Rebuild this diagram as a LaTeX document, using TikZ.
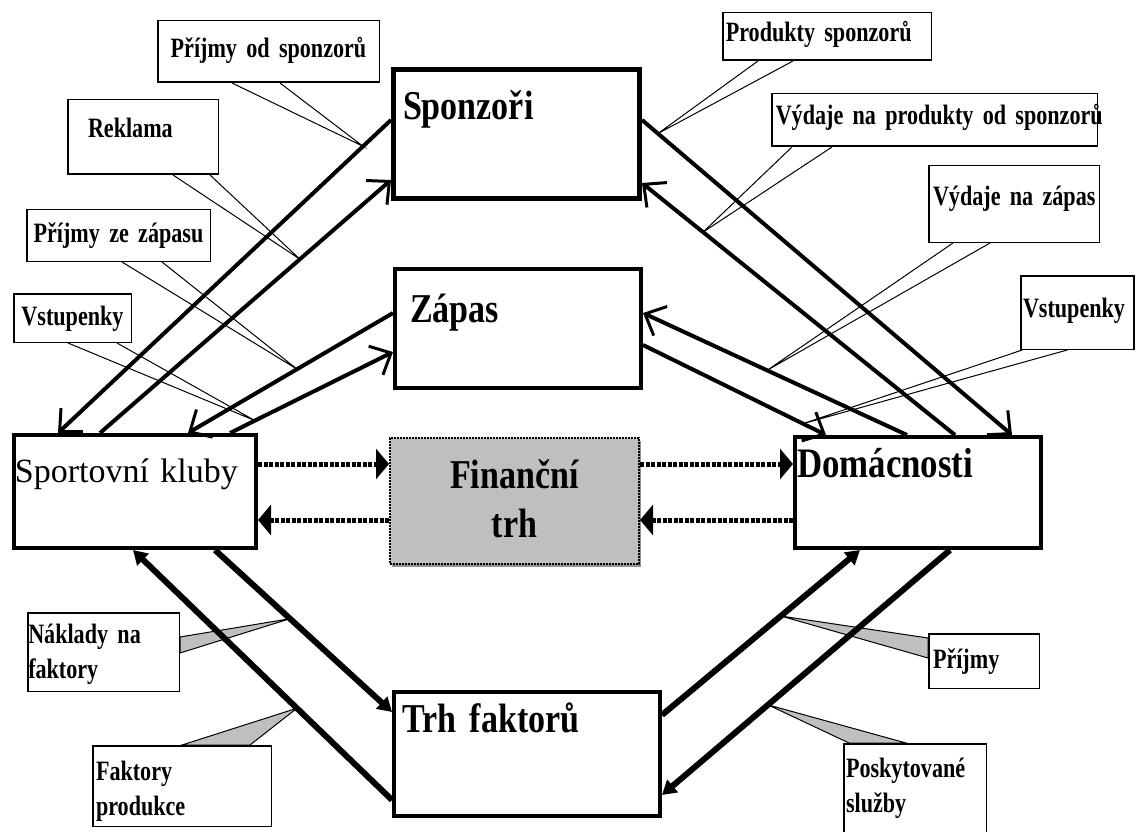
\documentclass[tikz,border=0pt]{standalone}
\usepackage{fontspec}
\setmainfont{Liberation Serif}
\newfontfamily\narrowserif[FakeStretch=0.83]{Liberation Serif}
\newfontfamily\tightserif[FakeStretch=0.79]{Liberation Serif}
\usetikzlibrary{arrows.meta,shadows}
\pgfdeclarelayer{back}
\pgfsetlayers{back,main}
\hyphenpenalty=10000
\exhyphenpenalty=10000
\newcommand\boxfont{\narrowserif\bfseries\fontsize{41}{49}\selectfont\spaceskip=7pt plus 2pt\relax}
\newcommand\lblfont{\tightserif\bfseries\fontsize{28}{35}\selectfont\spaceskip=4pt plus 1pt\relax}
\newcommand\clubfont{\fontsize{34}{44}\selectfont\spaceskip=7pt plus 2pt\relax}

\begin{document}
\begin{tikzpicture}[
  x=1pt, y=-1pt,
  big_box/.style={draw, line width=4pt, anchor=north west, inner ysep=0pt, align=left, font=\boxfont},
  label_box/.style={draw, line width=1.5pt, anchor=north west, inner ysep=0pt, align=left, font=\lblfont},
  fin_box/.style={draw, line width=2pt, dash pattern=on 2pt off 1pt, fill=black!25, drop shadow={shadow xshift=2pt, shadow yshift=-3pt, fill=black!85}, anchor=north west, inner sep=0pt, align=center, font=\boxfont},
  thin_arrow/.style={line width=4pt, -{Straight Barb[length=17pt, width=32pt, line width=3pt]}},
  thick_arrow/.style={line width=6pt, -{Triangle[length=14pt, width=16pt]}},
  dot_arrow/.style={line width=5pt, dash pattern=on 4pt off 1.5pt, -{Triangle[length=13pt, width=30pt]}},
  call_out/.style={line width=1pt},
  call_wedge/.style={line width=1pt, fill=black!25},
]
\path[use as bounding box] (0,0) rectangle (1136,832);
\clip (0,0) rectangle (1136,832);

\draw (391,67) node (spons) [big_box, line width=5pt, inner xsep=9.5pt, text width=227pt, text height=50.5pt, text depth=78.5pt] {Sponzoři};
\draw (393,267) node (zapas) [big_box, inner xsep=15pt, text width=216pt, text height=53pt, text depth=66pt] {Zápas};
\draw (12,433) node (kluby) [big_box, font=\clubfont, inner xsep=1pt, text width=240pt, text height=47pt, text depth=66pt] {\mbox{Sportovní kluby}};
\draw (389,437) node (fin) [fin_box, text width=249pt, text height=50pt, text depth=76pt] {Finanční\\trh};
\draw (793,435) node (domac) [big_box, font=\narrowserif\bfseries\fontsize{42}{49}\selectfont, inner xsep=2pt, text width=242pt, text height=40pt, text depth=71pt] {Domácnosti};
\draw (392,690) node (trh) [big_box, inner xsep=8pt, text width=250pt, text height=40pt, text depth=84pt] {\mbox{Trh faktorů}};

\draw (157,20) node (l_ps) [label_box, inner xsep=0pt, align=center, text width=221.5pt, text height=37.25pt, text depth=24.25pt] {\mbox{Příjmy od sponzorů}};
\draw (67,99) node (l_rek) [label_box, inner xsep=20.25pt, text width=110pt, text height=38.25pt, text depth=36.25pt] {Reklama};
\draw (26,209) node (l_pz) [label_box, inner xsep=0pt, align=center, text width=183.5pt, text height=32.25pt, text depth=19.25pt] {\mbox{Příjmy ze zápasu}};
\draw (13,293) node (l_vl) [label_box, inner xsep=0pt, align=center, text width=117.5pt, text height=31.25pt, text depth=17.25pt] {Vstupenky};
\draw (722,12) node (l_prod) [label_box, inner xsep=3pt, text width=202.5pt, text height=29.25pt, text depth=18.25pt] {\mbox{Produkty sponzorů}};
\draw (771,93) node (l_vps) [label_box, inner xsep=4pt, text width=317.5pt, text height=31.25pt, text depth=21.25pt] {\mbox{Výdaje na produkty od sponzorů}};
\draw (928,165) node (l_vz) [label_box, inner xsep=4.25pt, text width=162pt, text height=39.25pt, text depth=37.25pt] {\mbox{Výdaje na zápas}};
\draw (1020,275) node (l_vr) [label_box, inner xsep=2.25pt, text width=108.5pt, text height=41.25pt, text depth=32.25pt] {Vstupenky};
\draw (27,612) node (l_nf) [label_box, inner xsep=0.5pt, text width=150.5pt, text height=30.25pt, text depth=48.25pt] {\mbox{Náklady na}\\faktory};
\draw (92,745) node (l_fp) [label_box, inner xsep=3.25pt, text width=172pt, text height=34.25pt, text depth=46.25pt] {Faktory\\produkce};
\draw (928,633) node (l_pr) [label_box, inner xsep=4.25pt, text width=102pt, text height=34.25pt, text depth=20.25pt] {Příjmy};
\draw (843,743) node (l_psl) [label_box, inner xsep=2.25pt, text width=138pt, text height=33.25pt, text depth=61.75pt] {Poskytované\\služby};

\draw[thin_arrow] ([yshift=14pt]spons.west) -- coordinate[pos=0.084] (c_ps) ([xshift=-77pt]kluby.north);
\draw[thin_arrow] ([xshift=-35pt]kluby.north) -- coordinate[pos=0.687] (c_rek) ([yshift=-46pt]spons.west);
\draw[thin_arrow] ([yshift=15.5pt]zapas.west) -- coordinate[pos=0.468] (c_pz) ([xshift=53pt]kluby.north);
\draw[thin_arrow] ([xshift=95pt]kluby.north) -- coordinate[pos=0.153] (c_vl) ([yshift=-23.5pt]zapas.west);
\draw[thin_arrow] ([yshift=14pt]spons.east) -- coordinate[pos=0.043] (c_prod) ([xshift=94pt]domac.north);
\draw[thin_arrow] ([xshift=37pt]domac.north) -- coordinate[pos=0.805] (c_vps) ([yshift=-49pt]spons.east);
\draw[thin_arrow] ([xshift=-11pt]domac.north) -- coordinate[pos=0.53] (c_vz) ([yshift=15.5pt]zapas.east);
\draw[thin_arrow] ([yshift=-16.5pt]zapas.east) -- coordinate[pos=0.874] (c_vr) ([xshift=-92pt]domac.north);

\draw[thick_arrow] ([yshift=-46pt]trh.west) -- coordinate[pos=0.367] (c_fp) ([xshift=-2pt]kluby.south);
\draw[thick_arrow] ([xshift=80pt]kluby.south) -- coordinate[pos=0.424] (c_nf) ([yshift=42pt]trh.west);
\draw[thick_arrow] ([yshift=39pt]trh.east) -- coordinate[pos=0.6] (c_pr) ([xshift=-58pt]domac.south);
\draw[thick_arrow] ([xshift=32pt]domac.south) -- coordinate[pos=0.632] (c_psl) ([yshift=-41pt]trh.east);

\draw[dot_arrow] ([yshift=27.5pt]kluby.east) -- ([yshift=37pt]fin.west);
\draw[dot_arrow] ([yshift=-19pt]fin.west) -- ([yshift=-28.5pt]kluby.east);
\draw[dot_arrow] ([yshift=37pt]fin.east) -- ([yshift=28.5pt]domac.west);
\draw[dot_arrow] ([yshift=-27.5pt]domac.west) -- ([yshift=-19pt]fin.east);

\begin{pgfonlayer}{back}
\draw[call_out] ([xshift=-36.5pt]l_ps.south) -- (c_ps) -- ([xshift=11.5pt]l_ps.south);
\draw[call_out] ([xshift=30pt]l_rek.south) -- (c_rek) -- ([xshift=67pt]l_rek.south);
\draw[call_out] ([xshift=3.5pt]l_pz.south) -- (c_pz) -- ([xshift=43.5pt]l_pz.south);
\draw[call_out] ([xshift=-4.5pt]l_vl.south) -- (c_vl) -- ([xshift=44.5pt]l_vl.south);
\draw[call_out] ([xshift=-69pt]l_prod.south) -- (c_prod) -- ([xshift=-34pt]l_prod.south);
\draw[call_out] ([xshift=-142.5pt]l_vps.south) -- (c_vps) -- ([xshift=-102.5pt]l_vps.south);
\draw[call_out] ([xshift=-61pt]l_vz.south) -- (c_vz) -- ([xshift=-24pt]l_vz.south);
\draw[call_out] ([xshift=-55pt]l_vr.south) -- (c_vr) -- ([xshift=-10pt]l_vr.south);
\draw[call_wedge] ([yshift=15pt]l_nf.east) -- (c_nf) -- ([yshift=-1pt]l_nf.east) -- cycle;
\draw[call_wedge] (l_fp.north) -- (c_fp) -- ([xshift=68pt]l_fp.north) -- cycle;
\draw[call_wedge] ([yshift=23pt]l_pr.west) -- (c_pr) -- ([yshift=3pt]l_pr.west) -- cycle;
\draw[call_wedge] ([xshift=-66pt]l_psl.north) -- (c_psl) -- ([xshift=-9pt]l_psl.north) -- cycle;
\end{pgfonlayer}
\end{tikzpicture}
\end{document}
